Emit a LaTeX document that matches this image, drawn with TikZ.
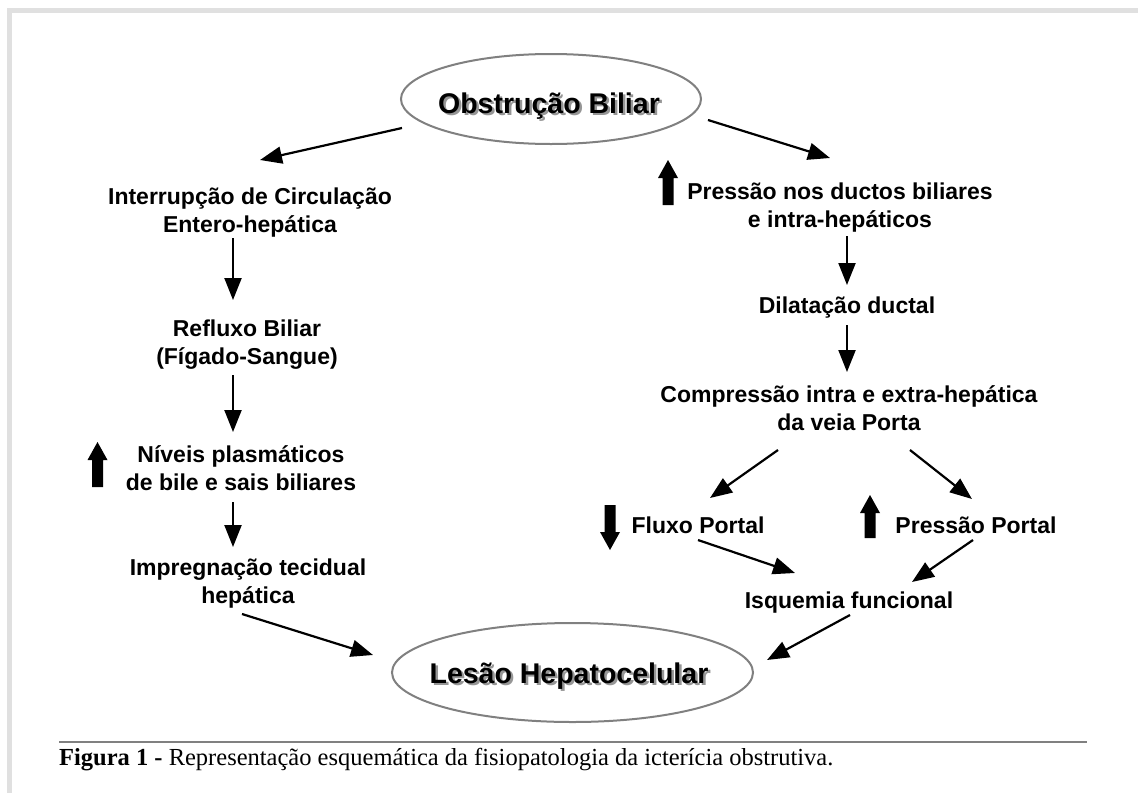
\documentclass[tikz,border=0pt]{standalone}
\usepackage{fontspec}
\setmainfont{Liberation Serif}
\newfontfamily\diagfont{Liberation Sans}
\usetikzlibrary{arrows.meta,shapes.geometric}
\definecolor{frameGray}{RGB}{224,224,224}
\definecolor{ruleGray}{RGB}{128,128,128}
\definecolor{ellGray}{RGB}{128,128,128}
\definecolor{shadowGray}{RGB}{150,150,150}
\newcommand\blkUp[3]{\fill (#1-5.5,#3) -- (#1-5.5,#2+18) -- (#1-10,#2+18) -- (#1,#2) -- (#1+10,#2+18) -- (#1+5.5,#2+18) -- (#1+5.5,#3) -- cycle;}
\newcommand\blkDown[3]{\fill (#1-5.5,#2) -- (#1-5.5,#3-18) -- (#1-10,#3-18) -- (#1,#3) -- (#1+10,#3-18) -- (#1+5.5,#3-18) -- (#1+5.5,#2) -- cycle;}
\newcommand\shadowtxt[1]{\rlap{\color{shadowGray}\raisebox{-2.5pt}{\kern2.5pt #1}}#1}
\begin{document}
\begin{tikzpicture}[x=1pt,y=-1pt,
  txt/.style={font=\diagfont\bfseries\fontsize{23}{28}\selectfont, align=center, inner sep=0pt, anchor=base},
  ttl/.style={font=\diagfont\bfseries\fontsize{28.5}{32}\selectfont, inner sep=0pt, anchor=base},
  conn/.style={line width=2.2pt, -{Triangle[length=22pt,width=17pt]}},
  ell/.style={ellipse, draw=ellGray, line width=2pt, inner sep=0pt}]
\useasboundingbox (0,0) rectangle (1138,793);
\fill[white] (0,0) rectangle (1138,793);
% frame
\draw[line width=5pt, frameGray] (9.5,793) -- (9.5,10.5) -- (1138,10.5);
% ellipses
\node[ell, minimum width=300pt, minimum height=90pt] (obs) at (551,99) {};
\node[ttl] (obsT) at (549,113) {\shadowtxt{Obstrução Biliar}};
\node[ell, minimum width=361pt, minimum height=99pt] (les) at (572.5,672.5) {};
\node[ttl] (lesT) at (569,683) {\shadowtxt{Lesão Hepatocelular}};
% left column (anchor base = baseline of last line)
\node[txt] (intr) at (250,232) {Interrupção de Circulação\\Entero-hepática};
\node[txt] (refl) at (247,364) {Refluxo Biliar\\(Fígado-Sangue)};
\node[txt] (niv) at (241,490) {Níveis plasmáticos\\de bile e sais biliares};
\node[txt] (impr) at (248,603) {Impregnação tecidual\\hepática};
% right column
\node[txt] (press) at (840,227) {Pressão nos ductos biliares\\e intra-hepáticos};
\node[txt] (dil) at (847,313) {Dilatação ductal};
\node[txt] (comp) at (849,430) {Compressão intra e extra-hepática\\da veia Porta};
\node[txt] (flux) at (698,533) {Fluxo Portal};
\node[txt] (pport) at (976,533) {Pressão Portal};
\node[txt] (isq) at (849,608) {Isquemia funcional};
% block arrows
\blkUp{97.5}{442}{487}
\blkUp{668}{160}{205}
\blkUp{870}{495}{538}
\blkDown{610}{505}{550}
% connector end points
\coordinate (a1s) at (402,128); \coordinate (a1e) at (260,160);
\coordinate (a2s) at (708,120); \coordinate (a2e) at (830,158);
\coordinate (a3s) at (233,238); \coordinate (a3e) at (233,300);
\coordinate (a4s) at (233,375); \coordinate (a4e) at (233,432);
\coordinate (a5s) at (233,502); \coordinate (a5e) at (233,547);
\coordinate (a6s) at (242,614); \coordinate (a6e) at (373,655);
\coordinate (b1s) at (847,236); \coordinate (b1e) at (847,285);
\coordinate (b2s) at (847,325); \coordinate (b2e) at (847,372);
\coordinate (b3s) at (778,450); \coordinate (b3e) at (710,498);
\coordinate (b4s) at (910,450); \coordinate (b4e) at (972,499);
\coordinate (b5s) at (698,540); \coordinate (b5e) at (795,573);
\coordinate (b6s) at (973,540); \coordinate (b6e) at (912,582);
\coordinate (b7s) at (850,615); \coordinate (b7e) at (767,660);
\foreach \s/\e in {a1s/a1e,a2s/a2e,a3s/a3e,a4s/a4e,a5s/a5e,a6s/a6e,b1s/b1e,b2s/b2e,b3s/b3e,b4s/b4e,b5s/b5e,b6s/b6e,b7s/b7e}
  \draw[conn] (\s) -- (\e);
% caption
\draw[line width=2.5pt, ruleGray] (59,742) -- (1087,742);
\node[inner sep=0pt, anchor=base west, font=\fontsize{24.5}{28}\selectfont] (cap) at (59,765) {\textbf{Figura 1 -} Representação esquemática da fisiopatologia da icterícia obstrutiva.};
\end{tikzpicture}
\end{document}
